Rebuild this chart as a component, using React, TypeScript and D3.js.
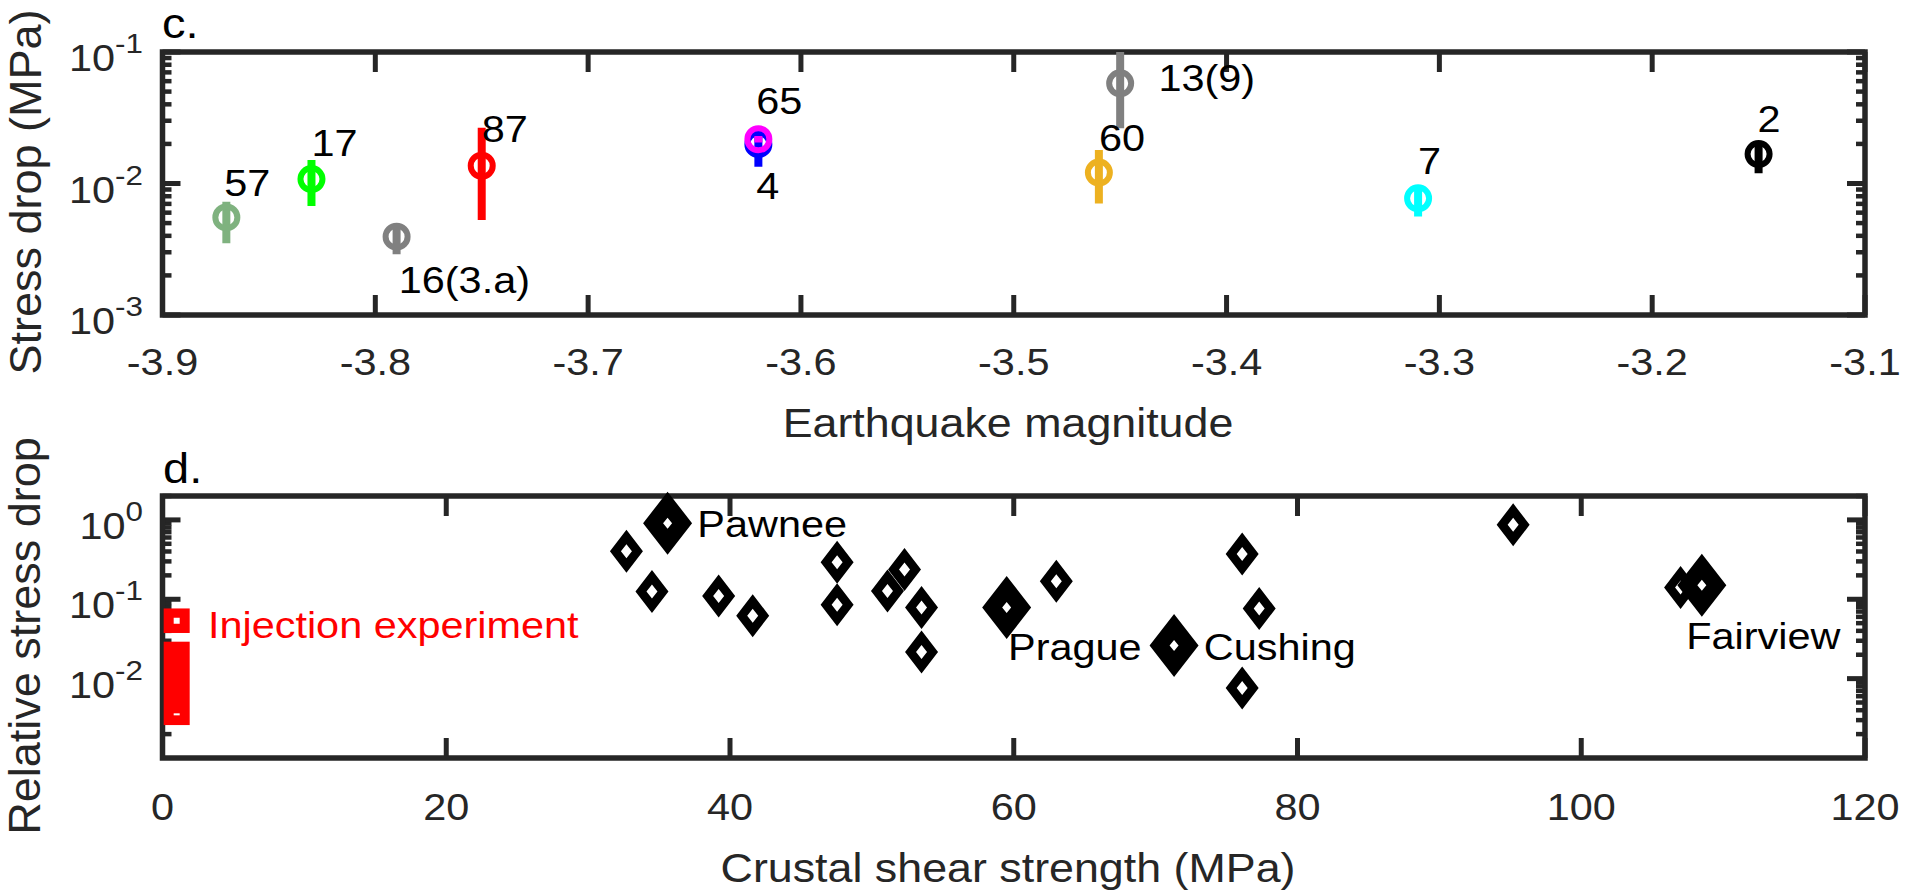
import React, { useEffect, useRef } from "react";
import * as d3 from "d3";

const W = 1905;
const H = 891;
const FONT = "'Liberation Sans', Arial, Helvetica, sans-serif";
const AXIS = "#262626";
const SX = 1.12; // the original's text is drawn a little wider than Arial

// ---- panel c: stress drop vs magnitude ----
const eventIds = ["57", "17", "16(3.a)", "87", "4", "65", "60", "13(9)", "7", "2"];
const magnitudes = [-3.87, -3.83, -3.79, -3.75, -3.62, -3.62, -3.46, -3.45, -3.31, -3.15];
const stressDrops = [0.00552, 0.0108, 0.00394, 0.01365, 0.0199, 0.0217, 0.0121, 0.0578, 0.00771, 0.01675];
const stressLow = [0.00351, 0.00675, 0.0029, 0.00527, 0.01343, 0.0205, 0.00706, 0.0263, 0.0056, 0.01197];
const stressHigh = [0.00728, 0.0151, 0.0049, 0.02655, 0.0225, 0.023, 0.018, 0.11, 0.009, 0.0205];
const eventColors = ["#7fb27f", "#00ff00", "#808080", "#ff0000", "#0000ff", "#ff00ff", "#edb120", "#808080", "#00ffff", "#000000"];
const eventLabelX = [-3.871, -3.83, -3.789, -3.75, -3.621, -3.621, -3.46, -3.432, -3.31, -3.1505];
const eventLabelY = [0.0102, 0.0205, 0.00185, 0.0259, 0.00957, 0.0424, 0.0224, 0.0634, 0.0149, 0.0309];
const magTicks = [-3.9, -3.8, -3.7, -3.6, -3.5, -3.4, -3.3, -3.2, -3.1];
const stressExps = [-3, -2, -1];

// ---- panel d: relative stress drop vs crustal shear strength ----
const shearStrength = [32.7, 34.5, 39.2, 41.6, 47.55, 47.55, 51.1, 52.3, 53.5, 53.5, 63.0, 76.1, 77.3, 76.1, 95.2, 107.0];
const relStressDrop = [0.402, 0.125, 0.11, 0.062, 0.293, 0.085, 0.127, 0.237, 0.0787, 0.0216, 0.169, 0.372, 0.0765, 0.00764, 0.866, 0.141];
const siteNames = ["Pawnee", "Prague", "Cushing", "Fairview"];
const siteStrength = [35.6, 59.5, 71.3, 108.5];
const siteRelDrop = [0.908, 0.0787, 0.0261, 0.15];
const siteLabelX = [37.7, 59.6, 73.4, 107.4];
const siteLabelY = [0.891, 0.0251, 0.0251, 0.0343];
const injectionX = [1, 1];
const injectionValue = [0.0536, 0.00355];
const injectionLow = [0.0376, 0.0026];
const injectionHigh = [0.0766, 0.0292];
const shearTicks = [0, 20, 40, 60, 80, 100, 120];
const relExps = [-2, -1, 0];

function diamond(w: number, h: number, wi: number, hi: number) {
  return `M0,${-h}L${w},0L0,${h}L${-w},0Z M0,${-hi}L${wi},0L0,${hi}L${-wi},0Z`;
}

function txt(g: any, x: number, y: number, s: string, size: number, anchor = "start", color = "#000") {
  return g.append("text")
    .attr("transform", `translate(${x},${y}) scale(${SX},1)`)
    .attr("text-anchor", anchor)
    .attr("font-family", FONT)
    .attr("font-size", size)
    .attr("fill", color)
    .text(s);
}

function drawFrame(g: any, x: any, y: any, xTicks: number[], exps: number[], minorRange: [number, number], tickLabelY: number) {
  const [x0, x1] = x.range();
  const [yb, yt] = y.range();

  // log minor ticks
  for (let e = minorRange[0]; e <= minorRange[1]; e++) {
    for (let m = 2; m <= 9; m++) {
      const v = m * Math.pow(10, e);
      if (v < y.domain()[0] || v > y.domain()[1]) continue;
      const yy = y(v);
      g.append("line").attr("x1", x0).attr("x2", x0 + 9).attr("y1", yy).attr("y2", yy)
        .attr("stroke", AXIS).attr("stroke-width", 4.5);
      g.append("line").attr("x1", x1).attr("x2", x1 - 9).attr("y1", yy).attr("y2", yy)
        .attr("stroke", AXIS).attr("stroke-width", 4.5);
    }
  }
  // major y ticks + labels
  exps.forEach((e) => {
    const yy = y(Math.pow(10, e));
    g.append("line").attr("x1", x0).attr("x2", x0 + 18).attr("y1", yy).attr("y2", yy)
      .attr("stroke", AXIS).attr("stroke-width", 5);
    g.append("line").attr("x1", x1).attr("x2", x1 - 18).attr("y1", yy).attr("y2", yy)
      .attr("stroke", AXIS).attr("stroke-width", 5);
    const t = txt(g, 143, yy + 19, "10", 37, "end", AXIS);
    t.append("tspan").attr("dy", -18).attr("font-size", 28).text(String(e));
  });
  // x ticks + labels
  xTicks.forEach((v) => {
    const xx = x(v);
    g.append("line").attr("x1", xx).attr("x2", xx).attr("y1", yb).attr("y2", yb - 20)
      .attr("stroke", AXIS).attr("stroke-width", 5);
    g.append("line").attr("x1", xx).attr("x2", xx).attr("y1", yt).attr("y2", yt + 20)
      .attr("stroke", AXIS).attr("stroke-width", 5);
    txt(g, xx, tickLabelY, Number.isInteger(v) ? String(v) : v.toFixed(1), 37, "middle", AXIS);
  });
  // box
  g.append("rect").attr("x", x0).attr("y", yt).attr("width", x1 - x0).attr("height", yb - yt)
    .attr("fill", "none").attr("stroke", AXIS).attr("stroke-width", 5.5);
}

export default function App() {
  const ref = useRef<SVGSVGElement>(null);

  useEffect(() => {
    const svg = d3.select(ref.current);
    svg.selectAll("*").remove();

    svg.append("rect").attr("width", W).attr("height", H).attr("fill", "#fff");

    // ================= panel c =================
    const xC = d3.scaleLinear().domain([-3.9, -3.1]).range([162.5, 1865]);
    const yC = d3.scaleLog().domain([1e-3, 1e-1]).range([315, 52]);
    const gc = svg.append("g");

    gc.append("clipPath").attr("id", "clipC").append("rect")
      .attr("x", 162.5).attr("y", 52).attr("width", 1865 - 162.5).attr("height", 263);

    drawFrame(gc, xC, yC, magTicks, stressExps, [-3, -2], 375);

    magnitudes.forEach((m, i) => {
      gc.append("line")
        .attr("clip-path", "url(#clipC)")
        .attr("x1", xC(m)).attr("x2", xC(m))
        .attr("y1", yC(stressLow[i])).attr("y2", yC(stressHigh[i]))
        .attr("stroke", eventColors[i]).attr("stroke-width", 8);
      gc.append("circle")
        .attr("cx", xC(m)).attr("cy", yC(stressDrops[i])).attr("r", 11)
        .attr("fill", "none").attr("stroke", eventColors[i]).attr("stroke-width", 6);
    });
    eventIds.forEach((id, i) => {
      txt(gc, xC(eventLabelX[i]), yC(eventLabelY[i]) + 0.36 * 37, id, 37);
    });

    txt(gc, 162, 38, "c.", 42);
    txt(gc, 1008, 437, "Earthquake magnitude", 40, "middle", AXIS);
    gc.append("text")
      .attr("transform", "translate(41,192) rotate(-90)")
      .attr("text-anchor", "middle").attr("font-family", FONT).attr("font-size", 45)
      .attr("fill", AXIS).text("Stress drop (MPa)");

    // ================= panel d =================
    const xD = d3.scaleLinear().domain([0, 120]).range([162.5, 1865]);
    const yD = d3.scaleLog().domain([1e-3, 2]).range([758, 496]);
    const gd = svg.append("g");

    drawFrame(gd, xD, yD, shearTicks, relExps, [-3, 0], 820);

    // injection experiment bars
    injectionX.forEach((v, i) => {
      gd.append("rect")
        .attr("x", xD(v) - 13).attr("width", 26)
        .attr("y", yD(injectionHigh[i])).attr("height", yD(injectionLow[i]) - yD(injectionHigh[i]))
        .attr("fill", "#ff0000");
      const hh = i === 0 ? 6 : 2;
      gd.append("rect")
        .attr("x", xD(v) - 3).attr("width", 6)
        .attr("y", yD(injectionValue[i]) - hh / 2).attr("height", hh)
        .attr("fill", "#fff");
    });
    txt(gd, xD(3.2), yD(0.0473) + 0.36 * 37, "Injection experiment", 37, "start", "#ff0000");

    shearStrength.forEach((s, i) => {
      gd.append("path")
        .attr("transform", `translate(${xD(s)},${yD(relStressDrop[i])})`)
        .attr("d", diamond(16.5, 21.5, 5.5, 7))
        .attr("fill", "#000").attr("fill-rule", "evenodd");
    });
    siteStrength.forEach((s, i) => {
      gd.append("path")
        .attr("transform", `translate(${xD(s)},${yD(siteRelDrop[i])})`)
        .attr("d", diamond(24.5, 31.5, 4.5, 5.5))
        .attr("fill", "#000").attr("fill-rule", "evenodd");
    });
    siteNames.forEach((n, i) => {
      txt(gd, xD(siteLabelX[i]), yD(siteLabelY[i]) + 0.36 * 37, n, 37);
    });

    txt(gd, 163, 483, "d.", 42);
    txt(gd, 1008, 882, "Crustal shear strength (MPa)", 40, "middle", AXIS);
    gd.append("text")
      .attr("transform", "translate(40,636) rotate(-90)")
      .attr("text-anchor", "middle").attr("font-family", FONT).attr("font-size", 45)
      .attr("fill", AXIS).text("Relative stress drop");
  }, []);

  return (
    <svg
      ref={ref}
      width={W}
      height={H}
      style={{ position: "absolute", left: 0, top: 0, display: "block" }}
    />
  );
}
